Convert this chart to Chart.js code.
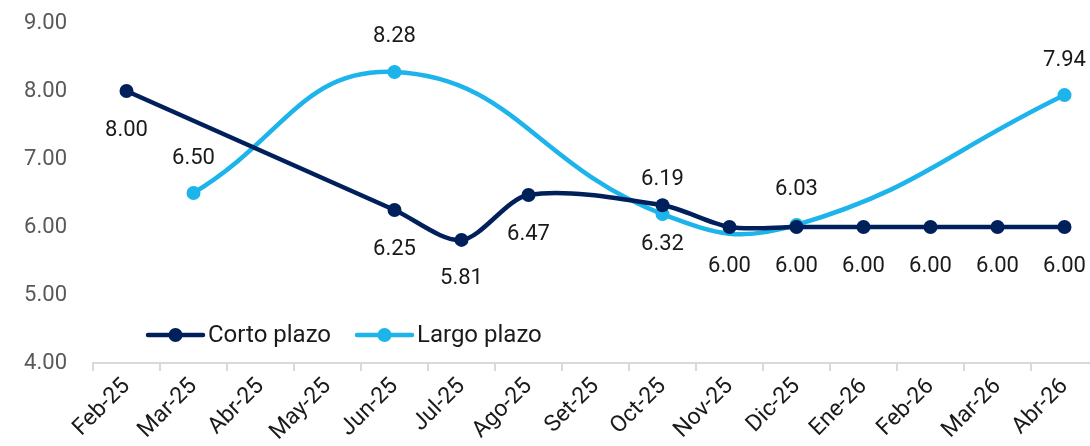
<!DOCTYPE html>
<html>
<head>
<meta charset="utf-8">
<script src="https://cdn.jsdelivr.net/npm/chart.js@4.4.1/dist/chart.umd.min.js"></script>
<style>
  html, body { margin: 0; padding: 0; background: #fff; overflow: hidden; }
  /* el ultimo tramo del eje queda cortado por el borde, como en el original */
  #wrap { width: 1105px; height: 446px; position: relative; }
</style>
</head>
<body>
<div id="wrap"><canvas id="grafico"></canvas></div>
<script>
// datos
const meses = ["Feb-25", "Mar-25", "Abr-25", "May-25", "Jun-25", "Jul-25", "Ago-25", "Set-25",
  "Oct-25", "Nov-25", "Dic-25", "Ene-26", "Feb-26", "Mar-26", "Abr-26"];
const cortoPlazo = [8.00, null, null, null, 6.25, 5.81, 6.47, null, 6.32, 6.00, 6.00, 6.00, 6.00, 6.00, 6.00];
const largoPlazo = [null, 6.50, null, null, 8.28, null, null, null, 6.19, null, 6.03, null, null, null, 7.94];
const nombres = ["Corto plazo", "Largo plazo"];

const azulOscuro = "#00205b";
const celeste = "#1cb4ea";
const fuente = "Roboto, 'Liberation Sans', sans-serif";

// etiquetas de datos: oscuro abajo, celeste arriba
const etiquetas = {
  id: "etiquetas",
  afterDatasetsDraw(chart) {
    const ctx = chart.ctx;
    ctx.save();
    ctx.font = "22px " + fuente;
    ctx.fillStyle = "#1a1a1a";
    ctx.textAlign = "center";
    ctx.textBaseline = "middle";
    chart.data.datasets.forEach((ds, i) => {
      const meta = chart.getDatasetMeta(i);
      const dy = i === 0 ? 39 : -35;
      meta.data.forEach((p, j) => {
        if (ds.data[j] === null) return;
        ctx.fillText(ds.data[j].toFixed(2), p.x, p.y + dy);
      });
    });
    ctx.restore();
  }
};

// leyenda dentro del area del grafico
const leyenda = {
  id: "leyenda",
  afterDraw(chart) {
    const ctx = chart.ctx;
    const y = 335;
    const items = [
      { x: 148, color: azulOscuro, texto: nombres[0] },
      { x: 357, color: celeste, texto: nombres[1] }
    ];
    ctx.save();
    items.forEach(it => {
      ctx.strokeStyle = it.color;
      ctx.lineWidth = 4.5;
      ctx.lineCap = "round";
      ctx.beginPath();
      ctx.moveTo(it.x, y);
      ctx.lineTo(it.x + 55, y);
      ctx.stroke();
      ctx.fillStyle = it.color;
      ctx.beginPath();
      ctx.arc(it.x + 27.5, y, 7, 0, Math.PI * 2);
      ctx.fill();
      ctx.fillStyle = "#1a1a1a";
      ctx.font = "24px " + fuente;
      ctx.textBaseline = "middle";
      ctx.textAlign = "left";
      ctx.fillText(it.texto, it.x + 60, y + 1);
    });
    ctx.restore();
  }
};

new Chart(document.getElementById("grafico"), {
  type: "line",
  data: {
    labels: meses,
    datasets: [
      {
        label: nombres[0],
        data: cortoPlazo,
        borderColor: azulOscuro,
        backgroundColor: azulOscuro,
        borderWidth: 4.5,
        pointRadius: 7,
        pointBorderWidth: 0,
        tension: 0.3,
        spanGaps: true
      },
      {
        label: nombres[1],
        data: largoPlazo,
        borderColor: celeste,
        backgroundColor: celeste,
        borderWidth: 4.5,
        pointRadius: 7,
        pointBorderWidth: 0,
        tension: 0.45,
        spanGaps: true
      }
    ]
  },
  options: {
    responsive: true,
    maintainAspectRatio: false,
    animation: false,
    layout: { padding: { top: 23, right: 0, bottom: 0, left: 0 } },
    plugins: { legend: { display: false }, tooltip: { enabled: false } },
    scales: {
      x: {
        offset: true,
        afterFit(s) { s.height = 83; },
        grid: { display: true, offset: true, drawOnChartArea: false, drawTicks: true, tickLength: 8, color: "#d9d9d9", lineWidth: 2 },
        border: { display: true, color: "#d9d9d9", width: 2 },
        ticks: { maxRotation: 45, minRotation: 45, autoSkip: false, color: "#1a1a1a", font: { family: fuente, size: 23 }, padding: 2 }
      },
      y: {
        min: 4, max: 9,
        afterFit(s) { s.width = 93; s.paddingTop = 0; s.paddingBottom = 0; },
        grid: { display: false },
        border: { display: false },
        ticks: { stepSize: 1, color: "#595959", padding: 18, font: { family: fuente, size: 22 },
          callback: v => v.toFixed(2) }
      }
    }
  },
  plugins: [etiquetas, leyenda]
});
</script>
</body>
</html>
